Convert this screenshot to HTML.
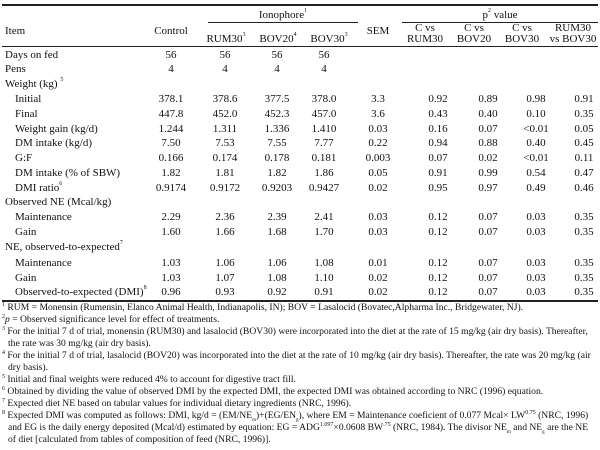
<!DOCTYPE html>
<html><head><meta charset="utf-8"><style>
html,body{margin:0;padding:0;background:#fff;}
body{width:600px;height:450px;position:relative;overflow:hidden;font-family:"Liberation Serif",serif;color:#111;font-size:11px;}
.r{position:absolute;left:0;width:600px;height:14px;line-height:14px;}
.r span{position:absolute;white-space:nowrap;}
.c{transform:translateX(-50%);}
.l0{left:5px}.l1{left:15px}
.a{left:171px}.b{left:225px}.d{left:277px}.e{left:324px}.f{left:378px}.g{left:438px}.h{left:488px}.i{left:536px}.j{left:584px}
.hl{position:absolute;background:#222;height:1px;}
sup{font-size:6px;vertical-align:top;line-height:6px;}
.fn{position:absolute;left:2px;font-size:9.6px;line-height:12px;white-space:nowrap;}
.fn sup{font-size:6px;}
</style></head><body>
<div class="hl" style="left:2px;width:596px;top:4px;height:2px"></div>
<div class="hl" style="left:208px;width:150px;top:22px"></div>
<div class="hl" style="left:402px;width:196px;top:22px"></div>
<div class="hl" style="left:2px;width:596px;top:46px"></div>
<div class="hl" style="left:2px;width:596px;top:300px;height:1.5px"></div>

<div class="r" style="top:8px"><span class="c" style="left:283px">Ionophore<sup>1</sup></span><span class="c" style="left:500px">p<sup>2</sup> value</span></div>
<div class="r" style="top:24px"><span class="l0">Item</span><span class="c a">Control</span><span class="c f">SEM</span></div>
<div class="r" style="top:21px"><span class="c" style="left:425px">C vs</span><span class="c" style="left:474px">C vs</span><span class="c" style="left:522px">C vs</span><span class="c" style="left:573px">RUM30</span></div>
<div class="r" style="top:32px"><span class="c" style="left:226px">RUM30<sup>3</sup></span><span class="c" style="left:278px">BOV20<sup>4</sup></span><span class="c" style="left:329px">BOV30<sup>3</sup></span><span class="c" style="left:425px">RUM30</span><span class="c" style="left:474px">BOV20</span><span class="c" style="left:522px">BOV30</span><span class="c" style="left:573px">vs BOV30</span></div>

<div class="r" style="top:48px"><span class="l0">Days on fed</span><span class="c a">56</span><span class="c b">56</span><span class="c d">56</span><span class="c e">56</span></div>
<div class="r" style="top:62px"><span class="l0">Pens</span><span class="c a">4</span><span class="c b">4</span><span class="c d">4</span><span class="c e">4</span></div>
<div class="r" style="top:77px"><span class="l0">Weight (kg) <sup>5</sup></span></div>
<div class="r" style="top:92px"><span class="l1">Initial</span><span class="c a">378.1</span><span class="c b">378.6</span><span class="c d">377.5</span><span class="c e">378.0</span><span class="c f">3.3</span><span class="c g">0.92</span><span class="c h">0.89</span><span class="c i">0.98</span><span class="c j">0.91</span></div>
<div class="r" style="top:107px"><span class="l1">Final</span><span class="c a">447.8</span><span class="c b">452.0</span><span class="c d">452.3</span><span class="c e">457.0</span><span class="c f">3.6</span><span class="c g">0.43</span><span class="c h">0.40</span><span class="c i">0.10</span><span class="c j">0.35</span></div>
<div class="r" style="top:122px"><span class="l1">Weight gain (kg/d)</span><span class="c a">1.244</span><span class="c b">1.311</span><span class="c d">1.336</span><span class="c e">1.410</span><span class="c f">0.03</span><span class="c g">0.16</span><span class="c h">0.07</span><span class="c i">&lt;0.01</span><span class="c j">0.05</span></div>
<div class="r" style="top:136px"><span class="l1">DM intake (kg/d)</span><span class="c a">7.50</span><span class="c b">7.53</span><span class="c d">7.55</span><span class="c e">7.77</span><span class="c f">0.22</span><span class="c g">0.94</span><span class="c h">0.88</span><span class="c i">0.40</span><span class="c j">0.45</span></div>
<div class="r" style="top:151px"><span class="l1">G:F</span><span class="c a">0.166</span><span class="c b">0.174</span><span class="c d">0.178</span><span class="c e">0.181</span><span class="c f">0.003</span><span class="c g">0.07</span><span class="c h">0.02</span><span class="c i">&lt;0.01</span><span class="c j">0.11</span></div>
<div class="r" style="top:166px"><span class="l1">DM intake (% of SBW)</span><span class="c a">1.82</span><span class="c b">1.81</span><span class="c d">1.82</span><span class="c e">1.86</span><span class="c f">0.05</span><span class="c g">0.91</span><span class="c h">0.99</span><span class="c i">0.54</span><span class="c j">0.47</span></div>
<div class="r" style="top:181px"><span class="l1">DMI ratio<sup>6</sup></span><span class="c a">0.9174</span><span class="c b">0.9172</span><span class="c d">0.9203</span><span class="c e">0.9427</span><span class="c f">0.02</span><span class="c g">0.95</span><span class="c h">0.97</span><span class="c i">0.49</span><span class="c j">0.46</span></div>
<div class="r" style="top:195px"><span class="l0">Observed NE (Mcal/kg)</span></div>
<div class="r" style="top:210px"><span class="l1">Maintenance</span><span class="c a">2.29</span><span class="c b">2.36</span><span class="c d">2.39</span><span class="c e">2.41</span><span class="c f">0.03</span><span class="c g">0.12</span><span class="c h">0.07</span><span class="c i">0.03</span><span class="c j">0.35</span></div>
<div class="r" style="top:225px"><span class="l1">Gain</span><span class="c a">1.60</span><span class="c b">1.66</span><span class="c d">1.68</span><span class="c e">1.70</span><span class="c f">0.03</span><span class="c g">0.12</span><span class="c h">0.07</span><span class="c i">0.03</span><span class="c j">0.35</span></div>
<div class="r" style="top:240px"><span class="l0">NE, observed-to-expected<sup>7</sup></span></div>
<div class="r" style="top:256px"><span class="l1">Maintenance</span><span class="c a">1.03</span><span class="c b">1.06</span><span class="c d">1.06</span><span class="c e">1.08</span><span class="c f">0.01</span><span class="c g">0.12</span><span class="c h">0.07</span><span class="c i">0.03</span><span class="c j">0.35</span></div>
<div class="r" style="top:271px"><span class="l1">Gain</span><span class="c a">1.03</span><span class="c b">1.07</span><span class="c d">1.08</span><span class="c e">1.10</span><span class="c f">0.02</span><span class="c g">0.12</span><span class="c h">0.07</span><span class="c i">0.03</span><span class="c j">0.35</span></div>
<div class="r" style="top:285px"><span class="l1">Observed-to-expected (DMI)<sup>8</sup></span><span class="c a">0.96</span><span class="c b">0.93</span><span class="c d">0.92</span><span class="c e">0.91</span><span class="c f">0.02</span><span class="c g">0.12</span><span class="c h">0.07</span><span class="c i">0.03</span><span class="c j">0.35</span></div>

<div class="fn" style="top:302px"><sup>1</sup> RUM = Monensin (Rumensin, Elanco Animal Health, Indianapolis, IN); BOV = Lasalocid (Bovatec,Alpharma Inc., Bridgewater, NJ).</div>
<div class="fn" style="top:314px"><sup>2</sup><i>p</i> = Observed significance level for effect of treatments.</div>
<div class="fn" style="top:326px"><sup>3</sup> For the initial 7 d of trial, monensin (RUM30) and lasalocid (BOV30) were incorporated into the diet at the rate of 15 mg/kg (air dry basis). Thereafter,</div>
<div class="fn" style="top:338px;left:8px">the rate was 30 mg/kg (air dry basis).</div>
<div class="fn" style="top:350px"><sup>4</sup> For the initial 7 d of trial, lasalocid (BOV20) was incorporated into the diet at the rate of 10 mg/kg (air dry basis). Thereafter, the rate was 20 mg/kg (air</div>
<div class="fn" style="top:362px;left:8px">dry basis).</div>
<div class="fn" style="top:374px"><sup>5</sup> Initial and final weights were reduced 4% to account for digestive tract fill.</div>
<div class="fn" style="top:386px"><sup>6</sup> Obtained by dividing the value of observed DMI by the expected DMI, the expected DMI was obtained according to NRC (1996) equation.</div>
<div class="fn" style="top:398px"><sup>7</sup> Expected diet NE based on tabular values for individual dietary ingredients (NRC, 1996).</div>
<div class="fn" style="top:410px"><sup>8</sup> Expected DMI was computed as follows: DMI, kg/d = (EM/NE<sub style="font-size:5px">m</sub>)+(EG/EN<sub style="font-size:5px">g</sub>), where EM = Maintenance coeficient of 0.077 Mcal× LW<sup>0.75</sup> (NRC, 1996)</div>
<div class="fn" style="top:422px;left:8px">and EG is the daily energy deposited (Mcal/d) estimated by equation: EG = ADG<sup>1.097</sup>×0.0608 BW<sup>.75</sup> (NRC, 1984). The divisor NE<sub style="font-size:5px">m</sub> and NE<sub style="font-size:5px">g</sub> are the NE</div>
<div class="fn" style="top:434px;left:8px">of diet [calculated from tables of composition of feed (NRC, 1996)].</div>
</body></html>
